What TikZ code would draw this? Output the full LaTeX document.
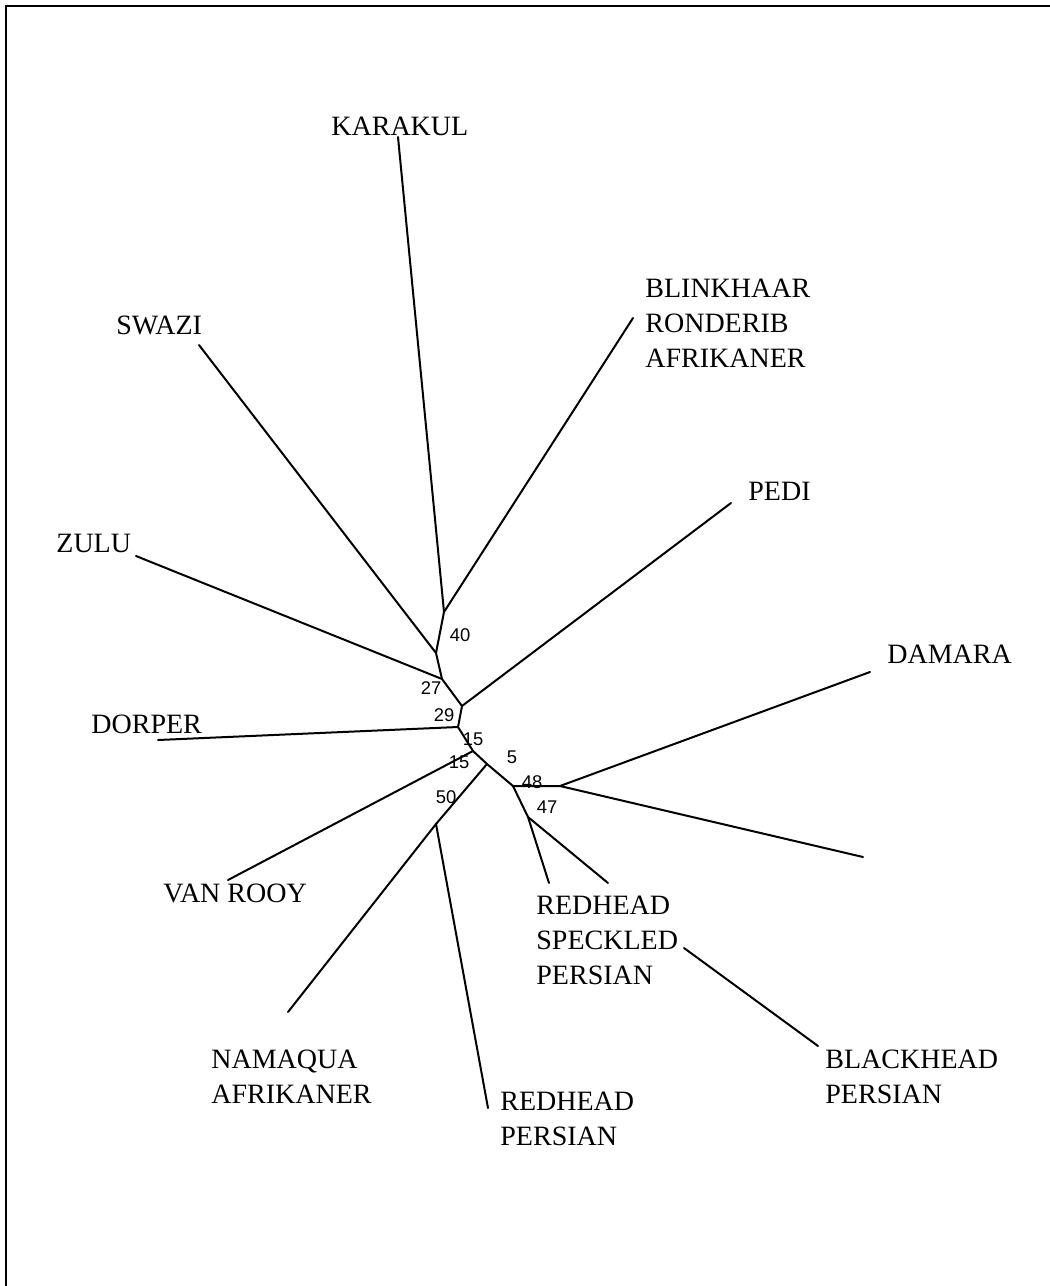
\documentclass[tikz,border=0pt]{standalone}
\usepackage{fontspec}
\setmainfont{Liberation Serif}
\newfontfamily\numfont{Liberation Sans}
\begin{document}
\begin{tikzpicture}[x=0.5pt,y=-0.5pt,
  branch/.style={line width=1pt,line cap=round,line join=round},
  frameline/.style={line width=1.2pt},
  taxon/.style={inner sep=0pt,font=\fontsize{14}{17.5}\selectfont,align=left},
  boot/.style={inner sep=0pt,font=\numfont\fontsize{9.2}{10}\selectfont}]
\useasboundingbox (0,0) rectangle (1050,1286);
\draw[frameline] (6,1290) -- (6,6) -- (1054,6);
% internal nodes
\coordinate (A) at (444,612);
\coordinate (B) at (436,653);
\coordinate (C) at (442,679);
\coordinate (D) at (462,706);
\coordinate (E) at (458,727);
\coordinate (F) at (473,751);
\coordinate (G) at (487,764);
\coordinate (H) at (436,824);
\coordinate (I) at (513,786);
\coordinate (J) at (560,786);
\coordinate (K) at (528,817);
% leaf ends
\coordinate (kar) at (398,137);
\coordinate (bli) at (633,318);
\coordinate (swa) at (199,345);
\coordinate (zul) at (136,556);
\coordinate (ped) at (731,503);
\coordinate (dor) at (158,740);
\coordinate (van) at (228,880);
\coordinate (nam) at (288,1012);
\coordinate (rpe) at (488,1108);
\coordinate (dam) at (870,672);
\coordinate (unk) at (863,857);
\coordinate (rs1) at (549,883);
\coordinate (rs2) at (608,883);
\coordinate (bk1) at (684,948);
\coordinate (bk2) at (818,1046);
% internal branches
\draw[branch] (A) -- (B) -- (C) -- (D) -- (E) -- (F) -- (G) -- (I) -- (J);
\draw[branch] (G) -- (H);
\draw[branch] (I) -- (K);
% leaf branches
\draw[branch] (A) -- (kar);
\draw[branch] (A) -- (bli);
\draw[branch] (B) -- (swa);
\draw[branch] (C) -- (zul);
\draw[branch] (D) -- (ped);
\draw[branch] (E) -- (dor);
\draw[branch] (F) -- (van);
\draw[branch] (H) -- (nam);
\draw[branch] (H) -- (rpe);
\draw[branch] (J) -- (dam);
\draw[branch] (J) -- (unk);
\draw[branch] (K) -- (rs1);
\draw[branch] (K) -- (rs2);
\draw[branch] (bk1) -- (bk2);
% taxon labels
\node[taxon,anchor=base west] (tkar) at (331,135) {KARAKUL};
\node[taxon,anchor=base west] (tswa) at (116,334) {SWAZI};
\node[taxon,anchor=north west] (tbli) at (645,279) {BLINKHAAR\\RONDERIB\\AFRIKANER};
\node[taxon,anchor=base west] (tped) at (748,500) {PEDI};
\node[taxon,anchor=base west] (tzul) at (56,552) {ZULU};
\node[taxon,anchor=base west] (tdam) at (887,663) {DAMARA};
\node[taxon,anchor=base west] (tdor) at (91,733) {DORPER};
\node[taxon,anchor=base west] (tvan) at (163,902) {VAN ROOY};
\node[taxon,anchor=north west] (trsp) at (536,896) {REDHEAD\\SPECKLED\\PERSIAN};
\node[taxon,anchor=north west] (tnam) at (211,1050) {NAMAQUA\\AFRIKANER};
\node[taxon,anchor=north west] (trpe) at (500,1092) {REDHEAD\\PERSIAN};
\node[taxon,anchor=north west] (tblk) at (825,1050) {BLACKHEAD\\PERSIAN};
% bootstrap values
\node[boot] (b40) at (460,635) {40};
\node[boot] (b27) at (431,688) {27};
\node[boot] (b29) at (444,715) {29};
\node[boot] (b15a) at (473,739) {15};
\node[boot] (b15b) at (459,762) {15};
\node[boot] (b5) at (512,757) {5};
\node[boot] (b50) at (446,797) {50};
\node[boot] (b48) at (532,782) {48};
\node[boot] (b47) at (547,807) {47};
\end{tikzpicture}
\end{document}
